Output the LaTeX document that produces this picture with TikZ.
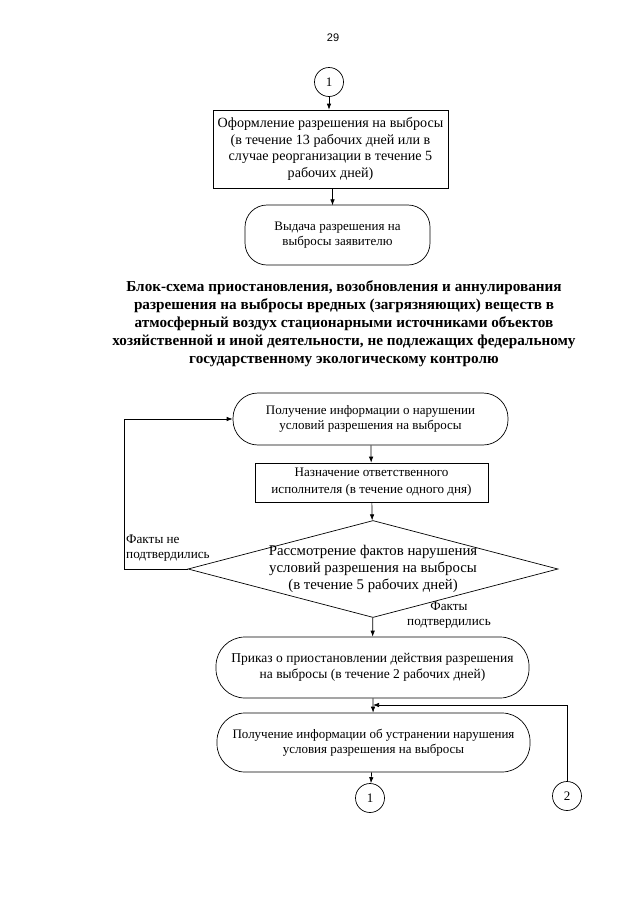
\documentclass[tikz,border=0pt]{standalone}
\usepackage{fontspec}
\setmainfont{Liberation Serif}
\newfontfamily\pagenofont{Liberation Sans}
\usetikzlibrary{shapes.geometric,arrows.meta}
\tikzset{
 flow/.style={draw,line width=0.7pt,align=center,inner sep=0pt,
  font=\fontsize{13}{15.5}\selectfont},
 big/.style={font=\fontsize{14.1}{16.7}\selectfont},
 procbox/.style={flow,rectangle},
 termbox/.style={flow,rectangle,rounded corners=#1},
 decbox/.style={flow,diamond},
 conn/.style={draw,line width=0.7pt,circle,inner sep=0pt,
  font=\fontsize{13}{15}\selectfont},
 arr/.style={-{Latex[length=6pt,width=4.5pt]},line width=0.7pt},
 note/.style={inner sep=0pt,font=\fontsize{13.2}{15}\selectfont}
}
\newcommand{\jump}[3]{%
 \node[conn,minimum size=29pt] ({#1}) at ({#2}) {#3};%
}

\begin{document}
\begin{tikzpicture}[x=1pt,y=-1pt]
   \useasboundingbox (0,0) rectangle (640,905);
   \node[font=\pagenofont\fontsize{11}{13}\selectfont] (pageno) at (333,38) {29};
   % upper part
   \jump{c1top}{329,82}{1}
   \node[procbox,big,minimum width=235pt,minimum height=78pt] (form) at (330.5,149)
     {Оформление разрешения на выбросы\\(в течение 13 рабочих дней или в\\случае реорганизации в течение 5\\рабочих дней)};
   \node[termbox=22pt,minimum width=185pt,minimum height=60pt] (issue) at (337.5,235)
     {Выдача разрешения на\\выбросы заявителю};
   \draw[arr] (c1top) -- (c1top|-form.north);
   \draw[arr] (form.south-|issue.north) ++(-5,0) -- ++(0,17);
   \node[align=center,font=\bfseries\fontsize{15.2}{18}\selectfont] (title) at (344,324)
     {Блок-схема приостановления, возобновления и аннулирования\\
      разрешения на выбросы вредных (загрязняющих) веществ в\\
      атмосферный воздух стационарными источниками объектов\\
      хозяйственной и иной деятельности, не подлежащих федеральному\\
      государственному экологическому контролю};
   % lower part
   \node[termbox=25pt,minimum width=275pt,minimum height=52pt] (getinfo) at (370.5,419)
     {Получение информации о нарушении\\условий разрешения на выбросы};
   \node[procbox,minimum width=233pt,minimum height=39pt,font=\fontsize{13.1}{17}\selectfont] (assign) at (371.5,482.5)
     {Назначение ответственного\\исполнителя (в течение одного дня)};
   \node[decbox,minimum width=370pt,minimum height=97pt,
     label={[flow,big,draw=none,font=\fontsize{14.8}{16.7}\selectfont]center:{Рассмотрение фактов нарушения\\условий разрешения на выбросы\\(в течение 5 рабочих дней)}}] (review) at (373,569) {};
   \node[termbox=29pt,minimum width=313pt,minimum height=61pt,font=\fontsize{13.5}{15.5}\selectfont] (order) at (372.5,667.5)
     {Приказ о приостановлении действия разрешения\\на выбросы (в течение 2 рабочих дней)};
   \node[termbox=28pt,minimum width=313pt,minimum height=59pt] (getfix) at (373.5,742.5)
     {Получение информации об устранении нарушения\\условия разрешения на выбросы};
   \jump{c1bot}{370,798}{1}
   \jump{c2}{567,796}{2}
   \node[note,anchor=north west,align=left] (nolbl) at (126,535) {Факты не\\подтвердились};
   \node[note,align=center] (yeslbl) at (449,615.5) {Факты\\подтвердились};
   \coordinate (loopcorner) at (124,569);
   \coordinate (join) at (373,705);
   \draw[arr] (getinfo) -- (assign);
   \draw[arr] (assign) -- (review);
   \draw[arr] (review) -- (order);
   \draw[arr] (order) -- (getfix);
   \draw[arr] (getfix) -- (c1bot);
   \draw[arr] (review.west) -- (loopcorner) |- (getinfo.west);
   \draw[arr] (c2.north) |- (join);
\end{tikzpicture}
\end{document}
